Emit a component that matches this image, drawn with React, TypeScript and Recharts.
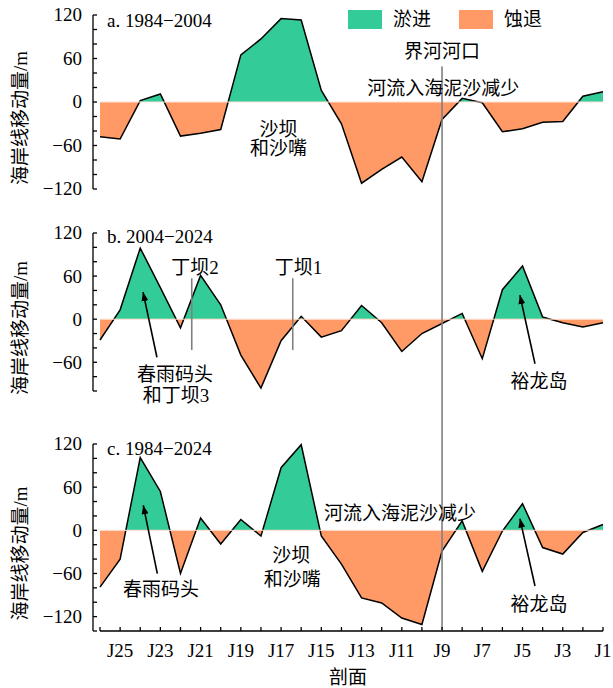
import React from "react";
import {
  ComposedChart,
  Area,
  XAxis,
  YAxis,
  ReferenceLine,
  ReferenceDot,
  Legend,
} from "recharts";

// profiles J26 .. J1, left to right
const PROFILES = [26, 25, 24, 23, 22, 21, 20, 19, 18, 17, 16, 15, 14, 13, 12, 11, 10, 9, 8, 7, 6, 5, 4, 3, 2, 1];

// shoreline movement (m) per profile
const CHANGE_1984_2004 = [-48, -51, 2, 11, -47, -43, -38, 65, 87, 115, 113, 16, -30, -112, -93, -76, -110, -24, 5, -1, -41, -37, -28, -27, 8, 14];
const CHANGE_2004_2024 = [-29, 13, 99, 44, -12, 61, 20, -50, -96, -30, 4, -25, -16, 19, -5, -45, -20, -6, 8, -55, 41, 74, 3, -5, -11, -5];
const CHANGE_1984_2024 = [-79, -40, 101, 54, -60, 17, -19, 15, -8, 87, 119, -8, -47, -94, -101, -122, -131, -29, 13, -57, -1, 37, -24, -33, -3, 8];

const TICKS_A = [-120, -100, -80, -60, -40, -20, 0, 20, 40, 60, 80, 100, 120];
const TICKS_B = [-100, -80, -60, -40, -20, 0, 20, 40, 60, 80, 100, 120];
const TICKS_C = [-140, -120, -100, -80, -60, -40, -20, 0, 20, 40, 60, 80, 100, 120];

const LEGEND_ITEMS = ["淤进", "蚀退"];
const Y_TITLE = "海岸线移动量/m";
const X_TITLE = "剖面";
const ESTUARY = 9; // 界河河口

const GREEN = "#33cc99";
const ORANGE = "#ff9966";
const GREY = "#808080";
const FONT = '"Liberation Serif", "Noto Sans CJK SC", serif';
const FS = 19;

const rows = PROFILES.map((p, i) => ({
  p,
  a: CHANGE_1984_2004[i],
  b: CHANGE_2004_2024[i],
  c: CHANGE_1984_2024[i],
}));

type Note = { text: string; p: number; v: number; latin?: boolean };
type Arrow = { from: [number, number]; to: [number, number] };
type Guide = { p: number; top: number; bottom: number };

const splitOffset = (vals: number[]) => {
  const max = Math.max(...vals, 0);
  const min = Math.min(...vals, 0);
  return max / (max - min);
};

const YTick = (props: any) => {
  const { x, y, payload } = props;
  const v = payload.value;
  return (
    <g>
      <line x1={x} x2={x + 4} y1={y} y2={y} stroke="#000" strokeWidth={1.3} />
      {v % 60 === 0 && (
        <text x={x - 11} y={y} dy="0.34em" textAnchor="end" fontSize={FS} fontFamily={FONT} fill="#000">
          {v < 0 ? `−${-v}` : v}
        </text>
      )}
    </g>
  );
};

const XTick = (props: any) => {
  const { x, y, payload } = props;
  const v = payload.value;
  return (
    <g>
      <line x1={x} x2={x} y1={y} y2={y - 4} stroke="#000" strokeWidth={1.3} />
      {v % 2 === 1 && (
        <text x={x} y={y + 26} textAnchor="middle" fontSize={FS} fontFamily={FONT} fill="#000">
          {`J${v}`}
        </text>
      )}
    </g>
  );
};

const YTitle = (props: any) => {
  const vb = props.viewBox;
  const cx = 20;
  const cy = vb.y + vb.height / 2 + 16;
  return (
    <text
      x={cx}
      y={cy}
      transform={`rotate(-90 ${cx} ${cy})`}
      textAnchor="middle"
      dominantBaseline="central"
      fontSize={FS}
      fontFamily={FONT}
      fill="#000"
    >
      {Y_TITLE}
    </text>
  );
};

const XTitle = (props: any) => {
  const vb = props.viewBox;
  return (
    <text
      x={vb.x + vb.width / 2}
      y={vb.y + 46}
      textAnchor="middle"
      dominantBaseline="central"
      fontSize={FS}
      fontFamily={FONT}
      fill="#000"
    >
      {X_TITLE}
    </text>
  );
};

const LegendBox = () => (
  <div style={{ display: "flex", alignItems: "center", fontFamily: FONT, fontSize: FS, lineHeight: "19px" }}>
    {LEGEND_ITEMS.map((name, i) => (
      <div key={name} style={{ display: "flex", alignItems: "center", marginRight: i === 0 ? 28 : 0 }}>
        <span style={{ display: "inline-block", width: 34, height: 19, background: i === 0 ? GREEN : ORANGE, marginRight: 11 }} />
        <span>{name}</span>
      </div>
    ))}
  </div>
);

const NOTES_A: Note[] = [
  { text: "a. 1984−2004", p: 25.65, v: 104, latin: true },
  { text: "沙坝", p: 17.13, v: -37.5 },
  { text: "和沙嘴", p: 17.13, v: -63.7 },
  { text: "界河河口", p: 9.0, v: 70.2 },
  { text: "河流入海泥沙减少", p: 8.94, v: 18.3 },
];
const NOTES_B: Note[] = [
  { text: "b. 2004−2024", p: 25.65, v: 106, latin: true },
  { text: "丁坝2", p: 21.28, v: 72 },
  { text: "丁坝1", p: 16.13, v: 72 },
  { text: "春雨码头", p: 22.27, v: -77 },
  { text: "和丁坝3", p: 22.22, v: -106 },
  { text: "裕龙岛", p: 4.18, v: -86.7 },
];
const NOTES_C: Note[] = [
  { text: "c. 1984−2024", p: 25.65, v: 104.4, latin: true },
  { text: "春雨码头", p: 22.97, v: -82.2 },
  { text: "沙坝", p: 16.5, v: -35.5 },
  { text: "和沙嘴", p: 16.45, v: -68.3 },
  { text: "河流入海泥沙减少", p: 11.09, v: 23.3 },
  { text: "裕龙岛", p: 4.18, v: -103 },
];

const ARROWS_B: Arrow[] = [
  { from: [23.17, -53], to: [23.86, 37.7] },
  { from: [4.38, -62], to: [5.13, 33.5] },
];
const ARROWS_C: Arrow[] = [
  { from: [23.15, -60.3], to: [23.85, 34.8] },
  { from: [4.38, -77.5], to: [5.13, 16.3] },
];

const GUIDES_A: Guide[] = [{ p: ESTUARY, top: 49, bottom: -220 }];
const GUIDES_B: Guide[] = [
  { p: ESTUARY, top: 220, bottom: -220 },
  { p: 21.44, top: 57, bottom: -43 },
  { p: 16.42, top: 57, bottom: -43 },
];
const GUIDES_C: Guide[] = [{ p: ESTUARY, top: 220, bottom: -140 }];

type PanelProps = {
  id: string;
  dataKey: "a" | "b" | "c";
  values: number[];
  domain: [number, number];
  ticks: number[];
  height: number;
  margin: { top: number; right: number; bottom: number; left: number };
  notes: Note[];
  arrows: Arrow[];
  guides: Guide[];
  showX?: boolean;
  legend?: boolean;
};

function Panel({ id, dataKey, values, domain, ticks, height, margin, notes, arrows, guides, showX, legend }: PanelProps) {
  const off = splitOffset(values);
  return (
    <ComposedChart width={613} height={height} data={rows} margin={margin}>
      <defs>
        <linearGradient id={`${id}-fill`} x1="0" y1="0" x2="0" y2="1">
          <stop offset={off} stopColor={GREEN} />
          <stop offset={off} stopColor={ORANGE} />
        </linearGradient>
        <marker
          id={`${id}-arrow`}
          markerWidth={9}
          markerHeight={7}
          refX={9}
          refY={3.5}
          orient="auto"
          markerUnits="userSpaceOnUse"
        >
          <path d="M0,0 L9,3.5 L0,7 z" fill="#000" />
        </marker>
      </defs>
      <XAxis
        dataKey="p"
        type="number"
        domain={[1, 26]}
        reversed
        ticks={PROFILES}
        interval={0}
        padding={{ left: 7, right: 0 }}
        hide={!showX}
        height={57}
        axisLine={false}
        tickLine={false}
        tickSize={0}
        tickMargin={0}
        tick={<XTick />}
        label={showX ? <XTitle /> : undefined}
      />
      <YAxis
        type="number"
        domain={domain}
        ticks={ticks}
        interval={0}
        width={93}
        axisLine={{ stroke: "#000", strokeWidth: 1.3 }}
        tickLine={false}
        tickSize={0}
        tickMargin={0}
        tick={<YTick />}
        label={<YTitle />}
      />
      <Area
        type="linear"
        dataKey={dataKey}
        baseValue={0}
        stroke="#000"
        strokeWidth={1.5}
        fill={`url(#${id}-fill)`}
        fillOpacity={1}
        dot={false}
        activeDot={false}
        isAnimationActive={false}
      />
      <ReferenceLine
        segment={[{ x: 26, y: 0 }, { x: 1, y: 0 }]}
        stroke="#ffe2d4"
        strokeWidth={1}
        ifOverflow="visible"
      />
      {showX && (
        <ReferenceLine
          segment={[{ x: 26, y: domain[0] }, { x: 1, y: domain[0] }]}
          stroke="#000"
          strokeWidth={1.3}
          ifOverflow="visible"
        />
      )}
      {guides.map((g, i) => (
        <ReferenceLine
          key={`g${i}`}
          segment={[{ x: g.p, y: g.top }, { x: g.p, y: g.bottom }]}
          stroke={GREY}
          strokeWidth={1.6}
          ifOverflow="visible"
        />
      ))}
      {arrows.map((a, i) => (
        <ReferenceLine
          key={`a${i}`}
          segment={[{ x: a.from[0], y: a.from[1] }, { x: a.to[0], y: a.to[1] }]}
          ifOverflow="visible"
          shape={(s: any) => (
            <line
              x1={s.x1}
              y1={s.y1}
              x2={s.x2}
              y2={s.y2}
              stroke="#000"
              strokeWidth={1.6}
              markerEnd={`url(#${id}-arrow)`}
            />
          )}
        />
      ))}
      {notes.map((n, i) => (
        <ReferenceDot
          key={`n${i}`}
          x={n.p}
          y={n.v}
          r={0}
          ifOverflow="visible"
          shape={(s: any) => (
            <text
              x={s.cx}
              y={s.cy}
              textAnchor={n.latin ? "start" : "middle"}
              dominantBaseline={n.latin ? "auto" : "central"}
              fontSize={FS}
              fontFamily={FONT}
              fill="#000"
            >
              {n.text}
            </text>
          )}
        />
      ))}
      {legend && (
        <Legend
          layout="horizontal"
          verticalAlign="middle"
          align="center"
          content={<LegendBox />}
          wrapperStyle={{ position: "absolute", top: 10, left: 348, width: "auto", height: 19 }}
        />
      )}
    </ComposedChart>
  );
}

export default function App() {
  return (
    <div style={{ position: "absolute", left: 0, top: 0, width: 613, height: 688, background: "#fff" }}>
      <Panel
        id="pa"
        dataKey="a"
        values={CHANGE_1984_2004}
        domain={[-120, 120]}
        ticks={TICKS_A}
        height={210}
        margin={{ top: 15, right: 10, bottom: 21, left: 0 }}
        notes={NOTES_A}
        arrows={[]}
        guides={GUIDES_A}
        legend
      />
      <Panel
        id="pb"
        dataKey="b"
        values={CHANGE_2004_2024}
        domain={[-100, 120]}
        ticks={TICKS_B}
        height={210}
        margin={{ top: 23, right: 10, bottom: 29, left: 0 }}
        notes={NOTES_B}
        arrows={ARROWS_B}
        guides={GUIDES_B}
      />
      <Panel
        id="pc"
        dataKey="c"
        values={CHANGE_1984_2024}
        domain={[-140, 120]}
        ticks={TICKS_C}
        height={268}
        margin={{ top: 24, right: 10, bottom: 0, left: 0 }}
        notes={NOTES_C}
        arrows={ARROWS_C}
        guides={GUIDES_C}
        showX
      />
    </div>
  );
}
